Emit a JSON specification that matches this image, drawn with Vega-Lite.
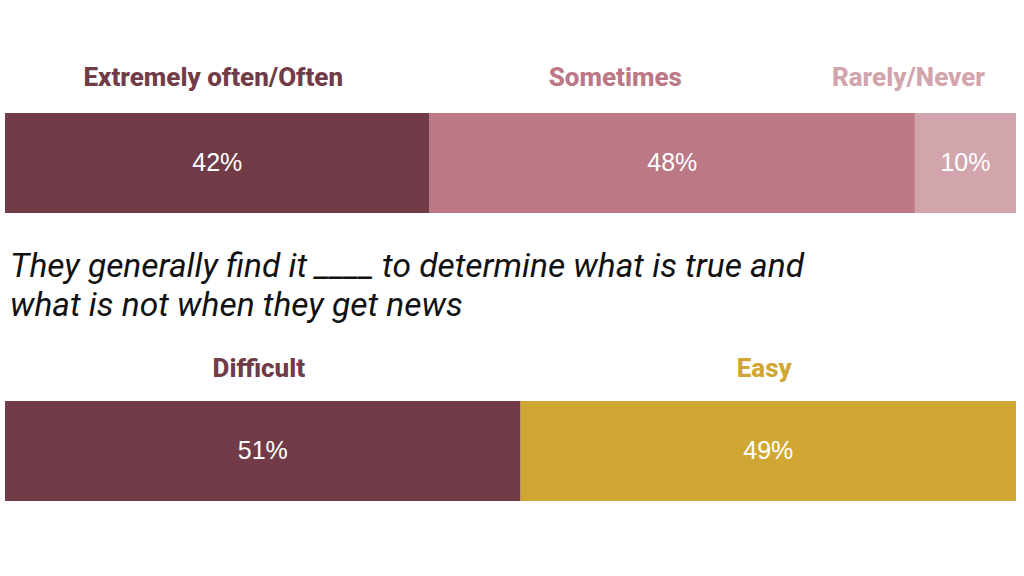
{
  "$schema": "https://vega.github.io/schema/vega-lite/v6.json",
  "width": 1024,
  "height": 576,
  "autosize": {"type": "fit", "contains": "padding"},
  "padding": {"left": 5, "right": 8, "top": 41, "bottom": 3},
  "background": "white",
  "config": {"view": {"stroke": null}},
  "data": {"values": [
    {"q": "Q1", "cat": "Extremely often/Often", "v": 42, "order": 1},
    {"q": "Q1", "cat": "Sometimes", "v": 48, "order": 2},
    {"q": "Q1", "cat": "Rarely/Never", "v": 10, "order": 3},
    {"q": "Q2", "cat": "Difficult", "v": 51, "order": 1},
    {"q": "Q2", "cat": "Easy", "v": 49, "order": 2}
  ]},
  "transform": [
    {"stack": "v", "groupby": ["q"], "sort": [{"field": "order", "order": "ascending"}], "as": ["x0", "x1"]},
    {"calculate": "(datum.x0 + datum.x1) / 2", "as": "mid"},
    {"calculate": "datum.v + '%'", "as": "pct"}
  ],
  "encoding": {
    "y": {"field": "q", "type": "nominal", "axis": null,
      "scale": {"domain": ["Q1", "Q2"], "paddingInner": 0.6528, "paddingOuter": 0.25}}
  },
  "layer": [
    {
      "mark": {"type": "bar", "strokeWidth": 0},
      "encoding": {
        "x": {"field": "x0", "type": "quantitative", "axis": null, "scale": {"domain": [0, 100], "nice": false, "zero": true}},
        "x2": {"field": "x1"},
        "color": {"field": "cat", "type": "nominal", "legend": null,
          "scale": {"domain": ["Extremely often/Often", "Sometimes", "Rarely/Never", "Difficult", "Easy"],
                    "range": ["#713B47", "#BC7884", "#D2A5AD", "#713B47", "#D1A733"]}}
      }
    },
    {
      "mark": {"type": "text", "color": "white", "fontSize": 25, "font": "Liberation Sans", "baseline": "middle"},
      "encoding": {
        "x": {"field": "mid", "type": "quantitative"},
        "text": {"field": "pct"}
      }
    },
    {
      "transform": [{"filter": "datum.cat === 'Extremely often/Often'"}],
      "mark": {"type": "text", "fontSize": 26, "fontWeight": 800, "font": "Roboto", "letterSpacing": 3, "dx": -4, "dy": -85, "baseline": "middle"},
      "encoding": {
        "x": {"field": "mid", "type": "quantitative"},
        "text": {"field": "cat"},
        "color": {"field": "cat", "type": "nominal", "legend": null}
      }
    },
    {
      "transform": [{"filter": "datum.cat === 'Sometimes' || datum.cat === 'Rarely/Never'"}],
      "mark": {"type": "text", "fontSize": 26, "fontWeight": 800, "font": "Roboto", "letterSpacing": 3, "dx": -57, "dy": -85, "baseline": "middle"},
      "encoding": {
        "x": {"field": "mid", "type": "quantitative"},
        "text": {"field": "cat"},
        "color": {"field": "cat", "type": "nominal", "legend": null}
      }
    },
    {
      "transform": [{"filter": "datum.q === 'Q2'"}],
      "mark": {"type": "text", "fontSize": 26, "fontWeight": 800, "font": "Roboto", "letterSpacing": 3, "dx": -4, "dy": -82, "baseline": "middle"},
      "encoding": {
        "x": {"field": "mid", "type": "quantitative"},
        "text": {"field": "cat"},
        "color": {"field": "cat", "type": "nominal", "legend": null}
      }
    },
    {
      "data": {"values": [{"q": "Q2", "start": 0, "lines": ["They generally find it ____ to determine what is true and", "what is not when they get news"]}]},
      "mark": {"type": "text", "align": "left", "baseline": "alphabetic", "fontSize": 33.5, "letterSpacing": 0.6, "fontStyle": "italic", "font": "Roboto", "color": "#111111", "dx": 5, "dy": -174, "lineHeight": 39},
      "encoding": {
        "x": {"field": "start", "type": "quantitative"},
        "text": {"field": "lines"}
      }
    }
  ]
}
